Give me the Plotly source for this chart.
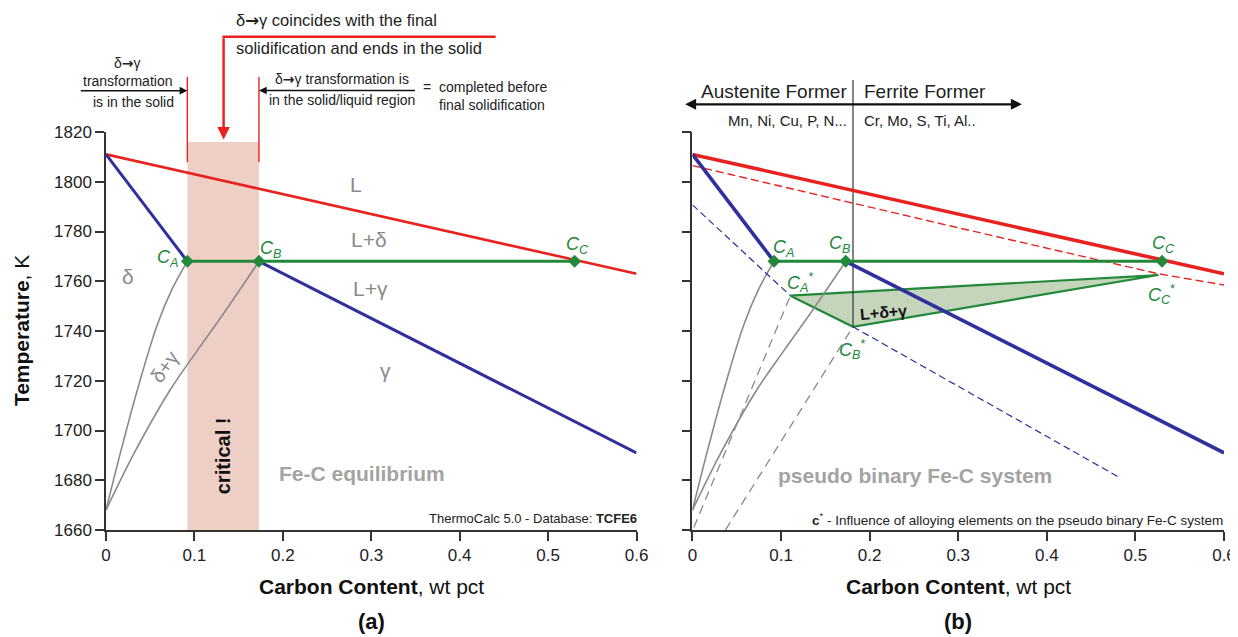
import plotly.graph_objects as go

# ---------------- data (wt pct C, temperature K) ----------------
liq_x = [0.0, 0.6]
liq_T = [1811, 1763]
dsol_x = [0.0, 0.092]
dsol_T = [1811, 1768]
gsol_x = [0.173, 0.6]
gsol_T = [1768, 1691]
peri_x = [0.092, 0.173, 0.53]          # C_A, C_B, C_C
peri_T = [1768, 1768, 1768]
dg1_x = [0.0, 0.017, 0.036, 0.058, 0.075, 0.092]
dg1_T = [1668, 1692, 1717, 1742.5, 1757, 1768]
dg2_x = [0.0, 0.032, 0.072, 0.104, 0.130, 0.154, 0.173]
dg2_T = [1668, 1691, 1716, 1732.5, 1745.5, 1758, 1768]
crit_top_T = 1816

# pseudo binary (alloyed) boundaries
pliq_x = [0.0, 0.3, 0.526, 0.6]
pliq_T = [1806.5, 1781.5, 1763, 1758.5]
pdsol_x = [0.0, 0.1105]
pdsol_T = [1790.7, 1754.2]
pgsol_x = [0.1812, 0.4825]
pgsol_T = [1741.7, 1681]
pdg1_x = [0.0015, 0.1105]
pdg1_T = [1661, 1754.2]
pdg2_x = [0.0372, 0.1812]
pdg2_T = [1660, 1741.7]
tri_x = [0.1105, 0.1812, 0.5259, 0.1105]   # C_A*, C_B*, C_C*
tri_T = [1754.2, 1741.7, 1762.5, 1754.2]

T_ticks = [1660, 1680, 1700, 1720, 1740, 1760, 1780, 1800, 1820]
C_ticks = [0, 0.1, 0.2, 0.3, 0.4, 0.5, 0.6]

RED = "#E8231F"
BLUE = "#2F2F9E"
GREEN = "#22893A"
GRAY = "#8A8A8A"
LGRAY = "#A3A3A3"
FONT = "Liberation Sans, Arial, sans-serif"
ARW = "<span style='font-family:DejaVu Sans'><b>→</b></span>"

# page body has an 8px margin; the photograph is squeezed slightly in x
OFF = 8
SX = 1238 / 1250
W, H = 1234, 637 - OFF
X0, X1, Y0, Y1 = 105, 1224, 132, 530          # wanted plot area in picture pixels
ML = X0 / SX - OFF
MT = Y0 - OFF
PWD = (X1 - X0) / SX
MR = W - ML - PWD
MB = H - (Y1 - OFF)
PW, PH = X1 - X0, Y1 - Y0


def PX(px):
    return (px - X0) / PW


def PY(py):
    return (Y1 - py) / PH


def DX(d):
    return d / SX


fig = go.Figure()


def line(x, y, color, width, ax="", dash="solid", **kw):
    fig.add_trace(go.Scatter(x=x, y=y, mode="lines", line=dict(color=color, width=width, dash=dash),
                             xaxis="x" + ax, yaxis="y" + ax, showlegend=False, hoverinfo="skip", **kw))


# ---------------- panel (a) ----------------
line(dg1_x, dg1_T, GRAY, 1.6, line_shape="spline")
line(dg2_x, dg2_T, GRAY, 1.6, line_shape="spline")
line(liq_x, liq_T, RED, 2.6)
line(dsol_x, dsol_T, BLUE, 3)
line(gsol_x, gsol_T, BLUE, 3)
fig.add_trace(go.Scatter(x=peri_x, y=peri_T, mode="lines+markers",
                         line=dict(color=GREEN, width=3),
                         marker=dict(symbol="diamond", size=10, color=GREEN),
                         xaxis="x", yaxis="y", showlegend=False, hoverinfo="skip"))

# ---------------- panel (b) ----------------
fig.add_trace(go.Scatter(x=tri_x, y=tri_T, mode="lines", fill="toself", fillcolor="#C4D5BC",
                         line=dict(color=GREEN, width=2.2), xaxis="x2", yaxis="y2",
                         showlegend=False, hoverinfo="skip"))
line(pdg1_x, pdg1_T, GRAY, 1.3, "2", dash="9px,6px")
line(pdg2_x, pdg2_T, GRAY, 1.3, "2", dash="9px,6px")
line(dg1_x, dg1_T, GRAY, 1.6, "2", line_shape="spline")
line(dg2_x, dg2_T, GRAY, 1.6, "2", line_shape="spline")
line(pdsol_x, pdsol_T, BLUE, 1.2, "2", dash="7px,4px")
line(pgsol_x, pgsol_T, BLUE, 1.2, "2", dash="7px,4px")
line(pliq_x, pliq_T, RED, 1.4, "2", dash="8px,4px")
line([tri_x[1], tri_x[1]], [T_ticks[-1], tri_T[1]], "#333333", 1.2, "2")
line(liq_x, liq_T, RED, 3.6, "2")
line(dsol_x, dsol_T, BLUE, 3.6, "2")
line(gsol_x, gsol_T, BLUE, 3.6, "2")
fig.add_trace(go.Scatter(x=peri_x, y=peri_T, mode="lines+markers",
                         line=dict(color=GREEN, width=3),
                         marker=dict(symbol="diamond", size=10, color=GREEN),
                         xaxis="x2", yaxis="y2", showlegend=False, hoverinfo="skip"))

# ---------------- axes ----------------
axis_common = dict(showline=True, linecolor="#333333", linewidth=1.5, ticks="outside", ticklen=9,
                   tickwidth=1.5, tickcolor="#333333", showgrid=False, zeroline=False,
                   tickfont=dict(family=FONT, size=17, color="#222222"))
fig.update_layout(
    xaxis=dict(domain=[0, (636 - X0) / PW], range=[0, 0.6], tickvals=C_ticks, anchor="y", **axis_common),
    yaxis=dict(domain=[0, 1], range=[1660, 1820], tickvals=T_ticks, anchor="x", **axis_common),
    xaxis2=dict(domain=[(692 - X0) / PW, 1], range=[0, 0.6], tickvals=C_ticks, anchor="y2", **axis_common),
    yaxis2=dict(domain=[0, 1], range=[1660, 1820], tickvals=T_ticks, anchor="x2",
                showticklabels=False, **axis_common),
)

shapes = [
    dict(type="rect", xref="x", yref="y", x0=peri_x[0], x1=peri_x[1], y0=1660, y1=crit_top_T,
         fillcolor="#EDCFC6", line=dict(width=0), layer="below"),
    dict(type="line", xref="x", yref="paper", x0=peri_x[0], x1=peri_x[0], y0=PY(162), y1=PY(77),
         line=dict(color=RED, width=1.4)),
    dict(type="line", xref="x", yref="paper", x0=peri_x[1], x1=peri_x[1], y0=PY(162), y1=PY(77),
         line=dict(color=RED, width=1.4)),
    dict(type="line", xref="paper", yref="paper", x0=PX(221.5), x1=PX(495), y0=PY(36.7), y1=PY(36.7),
         line=dict(color=RED, width=2.5)),
    dict(type="line", xref="x2", yref="paper", x0=tri_x[1], x1=tri_x[1], y0=1.0, y1=PY(80),
         line=dict(color="#333333", width=1.2)),
]
fig.update_layout(shapes=shapes)

ann = []


def text(x, y, t, size=14, color="#222222", xref="paper", yref="paper", xanchor="center",
         yanchor="middle", angle=0, align="center"):
    ann.append(dict(x=x, y=y, xref=xref, yref=yref, text=t, showarrow=False, xanchor=xanchor,
                    yanchor=yanchor, textangle=angle, align=align,
                    font=dict(family=FONT, size=size, color=color)))


# top annotations, panel (a)
text(PX(126.7), PY(63.3), "δ" + ARW + "γ", 14)
text(PX(126.7), PY(80.7), "transformation", 14)
text(PX(132.7), PY(101.7), "is in the solid", 14)
text(PX(233.3), PY(20.7), "δ" + ARW + "γ coincides with the final", 16.5, xanchor="left")
text(PX(233.3), PY(48.3), "solidification and ends in the solid", 16.5, xanchor="left")
text(PX(341.7), PY(79.5), "δ" + ARW + "γ transformation is", 14)
text(PX(341.7), PY(100), "in the solid/liquid region", 14)
text(PX(426.7), PY(87.3), "=", 14)
text(PX(436.7), PY(87.3), "completed before", 14, xanchor="left")
text(PX(436.7), PY(105), "final solidification", 14, xanchor="left")

# arrows
ann.append(dict(x=peri_x[0], y=PY(90.7), xref="x", yref="paper", ax=DX(-107), ay=0, text="",
                showarrow=True, arrowhead=2, arrowsize=1.1, arrowwidth=1.4, arrowcolor="#111111"))
ann.append(dict(x=peri_x[1], y=PY(90.5), xref="x", yref="paper", ax=DX(156), ay=0, text="",
                showarrow=True, arrowhead=2, arrowsize=1.1, arrowwidth=1.4, arrowcolor="#111111"))
ann.append(dict(x=PX(222.7), y=PY(139.5), xref="paper", yref="paper", ax=0, ay=-102.8, text="",
                showarrow=True, arrowhead=2, arrowsize=1.0, arrowwidth=2.5, arrowcolor=RED))
ann.append(dict(x=PX(1021.7), y=PY(104.3), xref="paper", yref="paper", ax=DX(-335), ay=0, text="",
                showarrow=True, arrowhead=2, startarrowhead=2, arrowside="end+start", arrowsize=1.0,
                startarrowsize=1.0, arrowwidth=2.2, arrowcolor="#111111"))

# top annotations, panel (b)
text(PX(848.3), PY(91.5), "Austenite Former", 19, xanchor="right")
text(PX(861.7), PY(91.5), "Ferrite Former", 19, xanchor="left")
text(PX(848.3), PY(120), "Mn, Ni, Cu, P, N...", 15, xanchor="right")
text(PX(862), PY(120), "Cr, Mo, S, Ti, Al..", 15, xanchor="left")

# region labels, panel (a)
text(0.2825, 1798.7, "L", 21, GRAY, "x", "y")
text(0.2975, 1776.9, "L+δ", 21, GRAY, "x", "y")
text(0.2994, 1757.2, "L+γ", 21, GRAY, "x", "y")
text(0.3164, 1724.3, "γ", 21, GRAY, "x", "y")
text(0.0245, 1762.1, "δ", 21, GRAY, "x", "y")
text(0.0659, 1725.6, "δ+γ", 20, GRAY, "x", "y", angle=-55)
text(0.1333, 1690.0, "<b>critical !</b>", 20, "#111111", "x", "y", angle=-90)
text(0.2893, 1682.9, "<b>Fe-C equilibrium</b>", 21, LGRAY, "x", "y")
text(0.0697, 1769.2, "<i>C<sub>A</sub></i>", 18, GREEN, "x", "y")
text(0.1864, 1772.6, "<i>C<sub>B</sub></i>", 18, GREEN, "x", "y")
text(0.533, 1774.2, "<i>C<sub>C</sub></i>", 18, GREEN, "x", "y")
text(PX(638), PY(518.5), "ThermoCalc 5.0 - Database: <b>TCFE6</b>", 13, xanchor="right")

# labels, panel (b)
text(0.103, 1773.2, "<i>C<sub>A</sub></i>", 18, GREEN, "x2", "y2")
text(0.1658, 1774.6, "<i>C<sub>B</sub></i>", 18, GREEN, "x2", "y2")
text(0.5312, 1774.6, "<i>C<sub>C</sub></i>", 18, GREEN, "x2", "y2")
text(0.1215, 1759.3, "<i>C<sub>A</sub></i><sup>*</sup>", 18, GREEN, "x2", "y2")
text(0.530, 1754.5, "<i>C<sub>C</sub></i><sup>*</sup>", 18, GREEN, "x2", "y2")
text(0.180, 1732.4, "<i>C<sub>B</sub></i><sup>*</sup>", 18, GREEN, "x2", "y2")
text(0.2154, 1747.6, "<b>L+δ+γ</b>", 16, "#111111", "x2", "y2", angle=-5)
text(0.2515, 1682.1, "<b>pseudo binary Fe-C system</b>", 21, LGRAY, "x2", "y2")
text(PX(1225), PY(518.5), "<b>c</b><sup>*</sup> - Influence of alloying elements on the pseudo binary Fe-C system",
     13.5, xanchor="right")

# axis titles and panel letters
text(PX(20), PY(331), "<b>Temperature</b>, K", 21, "#111111", angle=-90)
text(PX(370.5), PY(586), "<b>Carbon Content</b>, wt pct", 21, "#111111")
text(PX(958), PY(586), "<b>Carbon Content</b>, wt pct", 21, "#111111")
text(PX(370.5), PY(621), "<b>(a)</b>", 22, "#111111")
text(PX(958), PY(621), "<b>(b)</b>", 22, "#111111")

fig.update_layout(annotations=ann, width=W, height=H,
                  margin=dict(l=ML, r=MR, t=MT, b=MB, pad=0),
                  paper_bgcolor="white", plot_bgcolor="white",
                  font=dict(family=FONT), showlegend=False)

fig.write_html("out.html")
